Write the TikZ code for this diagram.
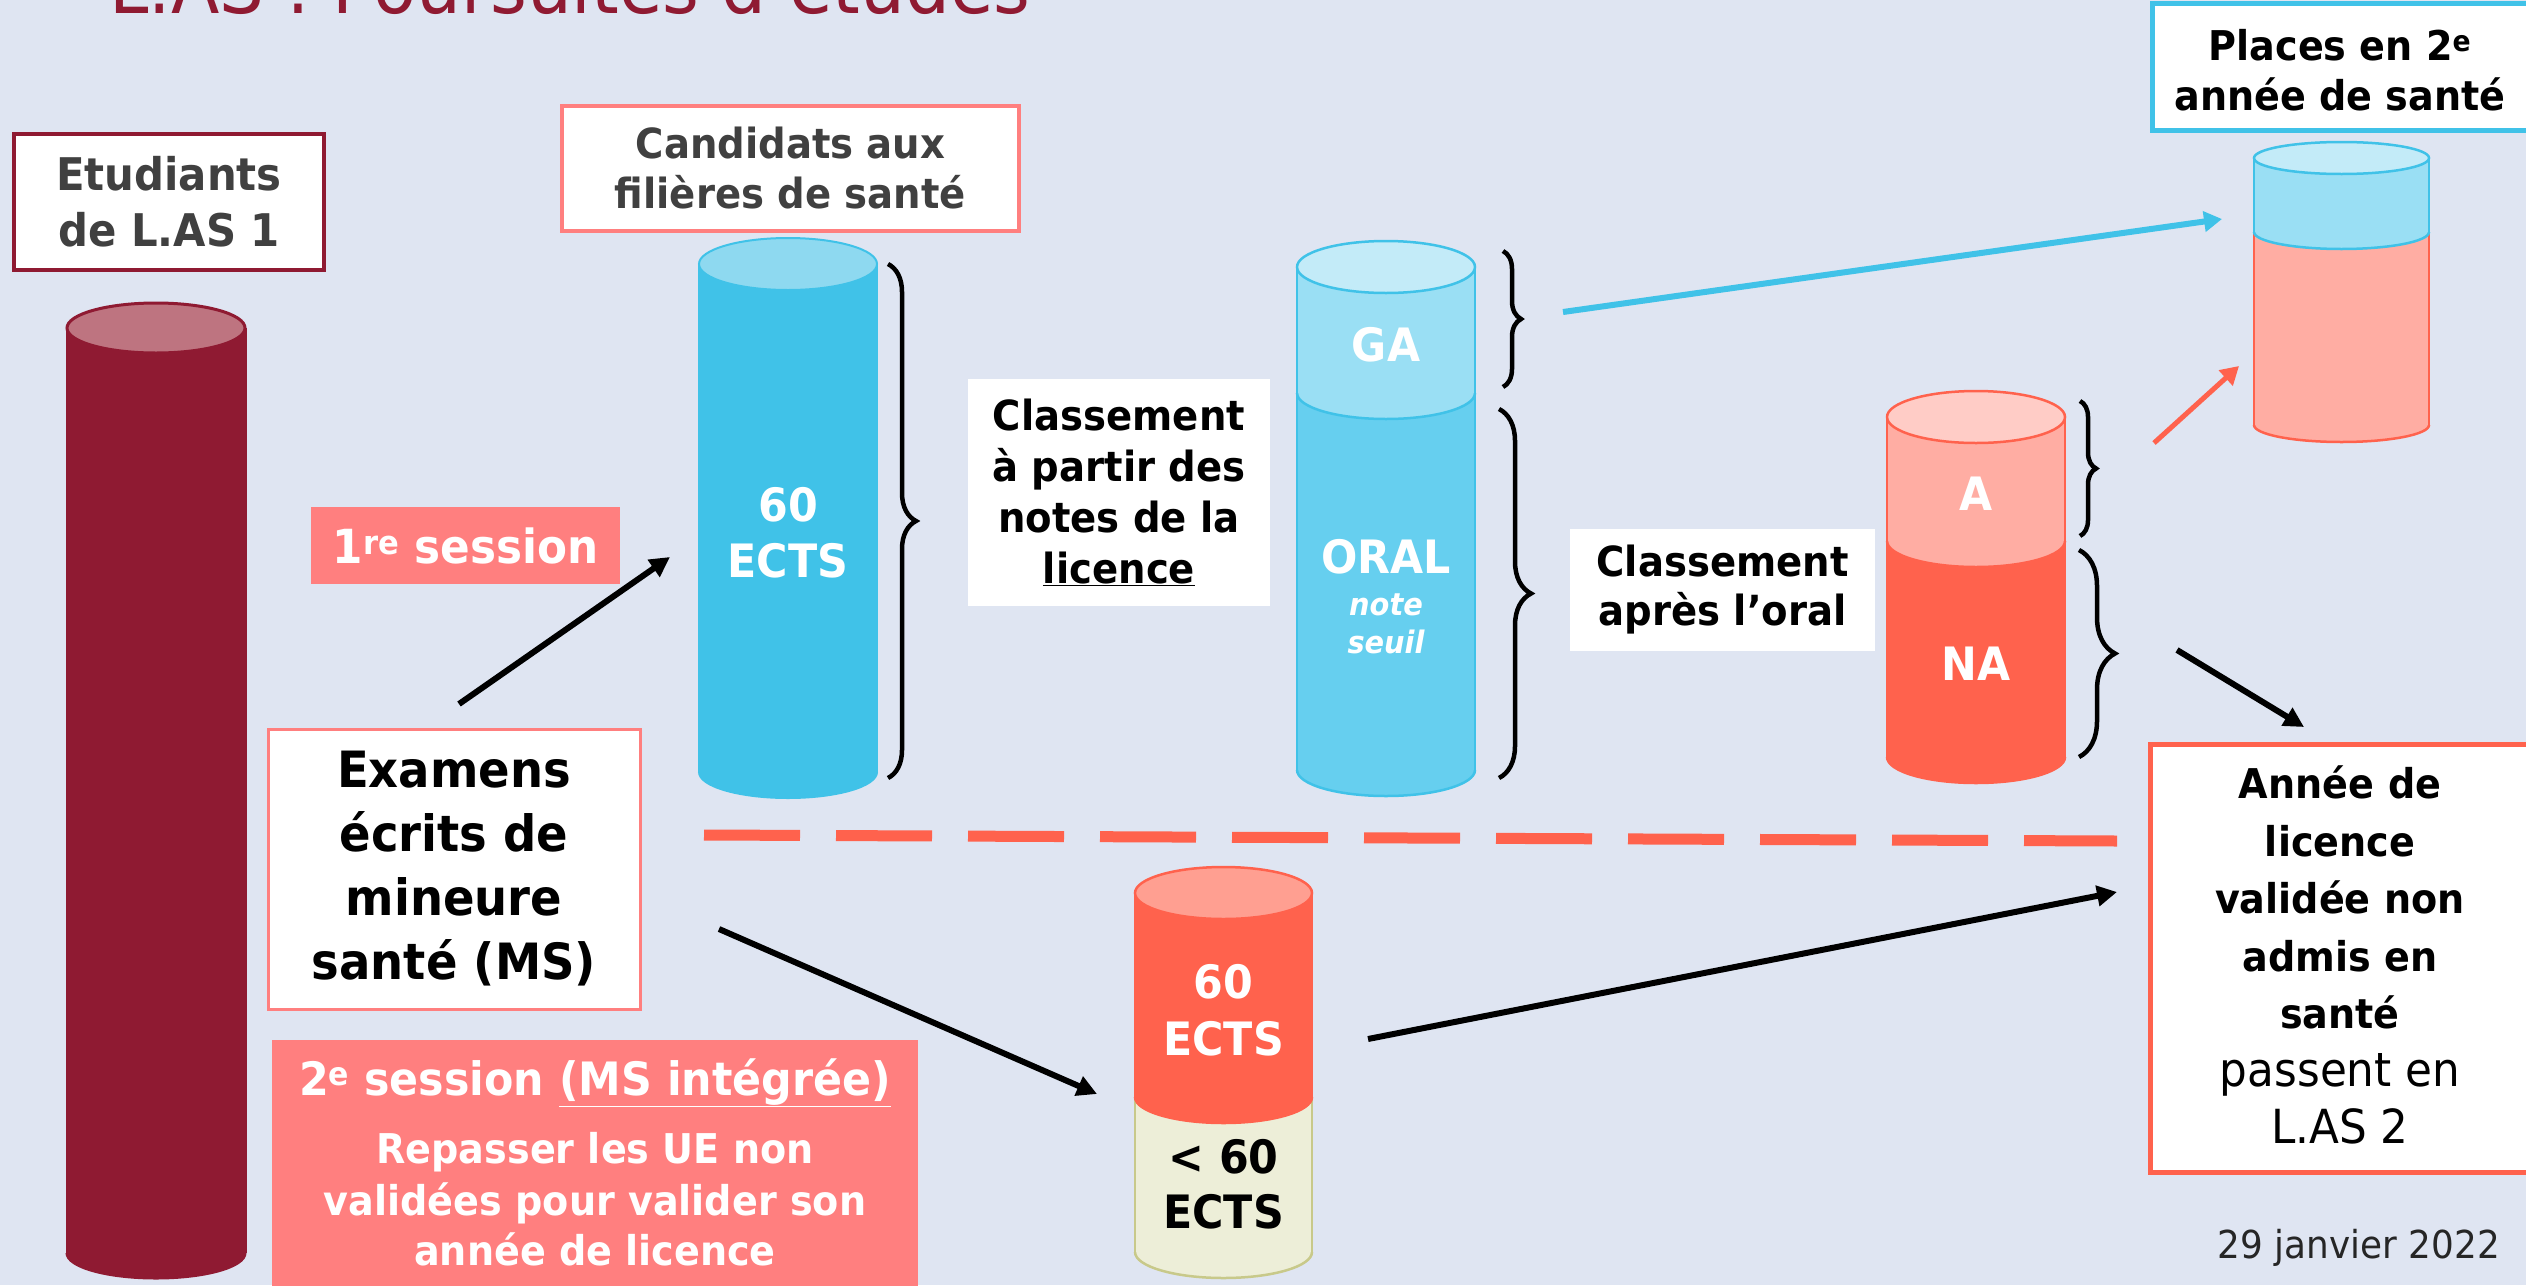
\documentclass[tikz,border=0pt]{standalone}
\usepackage{fontspec}
\setmainfont{DejaVu Sans}[FakeStretch=0.93]
\usetikzlibrary{arrows.meta,decorations.pathreplacing}
\definecolor{bg}{RGB}{223,229,242}
\definecolor{darkred}{RGB}{143,26,50}
\definecolor{darkredtop}{RGB}{190,116,128}
\definecolor{pinkbox}{RGB}{255,127,127}
\definecolor{cyanA}{RGB}{64,194,232}
\definecolor{cyantop}{RGB}{142,217,240}
\definecolor{galight}{RGB}{154,223,244}
\definecolor{gatop}{RGB}{195,235,248}
\definecolor{oralc}{RGB}{102,207,239}
\definecolor{redc}{RGB}{255,98,77}
\definecolor{redlight}{RGB}{255,173,163}
\definecolor{redtop}{RGB}{255,204,198}
\definecolor{redtopb}{RGB}{255,159,145}
\definecolor{beige}{RGB}{237,238,216}
\definecolor{beigeline}{RGB}{200,201,138}
\definecolor{greytext}{RGB}{64,64,64}
% cylinder section: cx, rx, ytop, ybot, ry, fill, border options
\newcommand{\cylsec}[7]{%
  \fill[#6] ({#1-#2},#3) rectangle ({#1+#2},#4);
  \fill[#6] (#1,#4) ellipse [x radius=#2, y radius=#5];
  \draw[#7] ({#1-#2},#3) -- ({#1-#2},#4);
  \draw[#7] ({#1+#2},#3) -- ({#1+#2},#4);
  \begin{scope}
    \clip ({#1-#2-10},#4) rectangle ({#1+#2+10},{#4+#5+10});
    \draw[#7] (#1,#4) ellipse [x radius=#2, y radius=#5];
  \end{scope}}
% cylinder top: cx, rx, y, ry, fill, border options
\newcommand{\cyltop}[6]{%
  \filldraw[fill=#5, #6] (#1,#3) ellipse [x radius=#2, y radius=#4];}
\begin{document}
\begin{tikzpicture}[x=1pt,y=-1pt,
  box/.style={rectangle, inner sep=0pt, align=center},
  brc/.style={decorate, decoration={brace, amplitude=#1}, line width=4.5pt, draw=black},
  blkarrow/.style={draw=black, line width=6pt, -{Triangle[length=20pt,width=20pt]}},
  bluearrow/.style={draw=cyanA, line width=6pt, -{Triangle[length=18pt,width=20pt]}},
  redarrow/.style={draw=redc, line width=5pt, -{Triangle[length=18pt,width=20pt]}},
  dashline/.style={draw=redc, line width=11pt, dash pattern=on 96pt off 36pt},
  cyltext/.style={anchor=base, text=white, font=\bfseries\fontsize{46}{54}\selectfont}]
\useasboundingbox (0,0) rectangle (2526,1285);
\fill[bg] (0,0) rectangle (2526,1285);

% title (cut at top)
\node[anchor=base west, text=darkred, inner sep=0pt, font=\fontsize{76}{84}\selectfont] (title) at (109,13) {L.AS : Poursuites d’études};

% ---- Etudiants de L.AS 1
\node[box, draw=darkred, line width=4pt, fill=white, minimum width=310pt, minimum height=136pt,
  text=greytext, font=\bfseries\fontsize{45}{56}\selectfont] (etud) at (169,202) {Etudiants\\de L.AS 1};

% dark red cylinder
\cylsec{156}{89}{328}{1253}{25}{darkred}{draw=darkred, line width=3pt}
\cyltop{156}{89}{328}{25}{darkredtop}{draw=darkred, line width=3pt}

% ---- 1re session
\node[box, fill=pinkbox, minimum width=309pt, minimum height=77pt, text=white,
  font=\bfseries\fontsize{47}{56}\selectfont] (sess1) at (465.5,545.5) {1\textsuperscript{re} session};

% ---- Examens
\node[box, draw=pinkbox, line width=3pt, fill=white, minimum width=372pt, minimum height=280pt,
  font=\bfseries\fontsize{50}{64}\selectfont] (exam) at (454,869) {Examens\\écrits de\\mineure\\santé (MS)};

% ---- 2e session
\node[box, fill=pinkbox, minimum width=646pt, minimum height=260pt] (sess2) at (595,1170) {};
\node[anchor=base, text=white, inner sep=0pt, font=\bfseries\fontsize{46}{52}\selectfont] (sess2a) at (595,1095) {2\textsuperscript{e} session \underline{(MS intégrée)}};
\node[anchor=base, text=white, inner sep=0pt, font=\bfseries\fontsize{41}{48}\selectfont] (sess2b) at (595,1163) {Repasser les UE non};
\node[anchor=base, text=white, inner sep=0pt, font=\bfseries\fontsize{41}{48}\selectfont] (sess2c) at (595,1215) {validées pour valider son};
\node[anchor=base, text=white, inner sep=0pt, font=\bfseries\fontsize{41}{48}\selectfont] (sess2d) at (595,1265) {année de licence};

% ---- Candidats
\node[box, draw=pinkbox, line width=4pt, fill=white, minimum width=457pt, minimum height=125pt,
  text=greytext, font=\bfseries\fontsize{41.5}{50}\selectfont] (cand) at (790.5,168.5) {Candidats aux\\filières de santé};

% blue cylinder 60 ECTS
\cylsec{788}{89}{264}{772}{26}{cyanA}{draw=cyanA, line width=2pt}
\cyltop{788}{89}{264}{26}{cyantop}{draw=cyanA, line width=2pt}
\node[cyltext] (ects1a) at (788,521) {60};
\node[cyltext] (ects1b) at (788,577) {ECTS};
\draw[brc=28pt] (888,264) -- (888,778);

% ---- Classement a partir des notes
\node[box, fill=white, minimum width=302pt, minimum height=227pt,
  font=\bfseries\fontsize{41.5}{51}\selectfont] (class1) at (1119,492.5) {Classement\\à partir des\\notes de la\\\underline{licence}};

% GA / ORAL cylinder
\cylsec{1386}{89}{393}{770}{26}{oralc}{draw=cyanA, line width=2.5pt}
\cylsec{1386}{89}{267}{393}{26}{galight}{draw=cyanA, line width=2.5pt}
\cyltop{1386}{89}{267}{26}{gatop}{draw=cyanA, line width=2.5pt}
\node[cyltext] (ga) at (1386,361) {GA};
\node[cyltext] (oral) at (1386,573) {ORAL};
\node[cyltext, font=\bfseries\itshape\fontsize{31}{40}\selectfont] (note) at (1386,615) {note};
\node[cyltext, font=\bfseries\itshape\fontsize{31}{40}\selectfont] (seuil) at (1386,653) {seuil};
\draw[brc=18pt] (1503,251) -- (1503,387);
\draw[brc=32pt] (1499,409) -- (1499,778);

% ---- Classement apres l'oral
\node[box, fill=white, minimum width=305pt, minimum height=122pt,
  font=\bfseries\fontsize{41.5}{49}\selectfont] (class2) at (1722.5,590) {Classement\\après l’oral};

% A / NA cylinder
\cylsec{1976}{89}{541}{757}{26}{redc}{draw=redc, line width=2.5pt}
\cylsec{1976}{89}{417}{541}{26}{redlight}{draw=redc, line width=2.5pt}
\cyltop{1976}{89}{417}{26}{redtop}{draw=redc, line width=2.5pt}
\node[cyltext] (atext) at (1976,510) {A};
\node[cyltext] (natext) at (1976,680) {NA};
\draw[brc=16pt] (2080,401) -- (2080,536);
\draw[brc=36pt] (2079,550) -- (2079,757);

% ---- Places en 2e annee
\node[box, draw=cyanA, line width=5pt, fill=white, minimum width=388pt, minimum height=127pt] (places) at (2346,66.5) {};
\node[box, font=\bfseries\fontsize{41}{50}\selectfont] (placest) at (2340,70) {Places en 2\textsuperscript{e}\\année de santé};

% places cylinder
\cylsec{2341.5}{87.5}{232}{425}{17}{redlight}{draw=redc, line width=2.5pt}
\cylsec{2341.5}{87.5}{158}{232}{17}{galight}{draw=cyanA, line width=2.5pt}
\cyltop{2341.5}{87.5}{158}{16}{gatop}{draw=cyanA, line width=2.5pt}

% ---- dashed separator
\coordinate (dl1) at (704,835);
\coordinate (dl2) at (2117,841);
\draw[dashline] (dl1) -- (dl2);

% lower cylinder
\cylsec{1223.5}{88.5}{1097}{1252}{26}{beige}{draw=beigeline, line width=2.5pt}
\cylsec{1223.5}{88.5}{893}{1097}{26}{redc}{draw=redc, line width=2.5pt}
\cyltop{1223.5}{88.5}{893}{26}{redtopb}{draw=redc, line width=2.5pt}
\node[cyltext] (ects2a) at (1223.5,998) {60};
\node[cyltext] (ects2b) at (1223.5,1055) {ECTS};
\node[cyltext, text=black] (ects3a) at (1223.5,1173) {< 60};
\node[cyltext, text=black] (ects3b) at (1223.5,1228) {ECTS};

% ---- Annee de licence validee
\node[box, draw=redc, line width=5pt, fill=white, minimum width=390pt, minimum height=428pt] (annee) at (2345,958) {};
\node[box, text width=380pt, font=\bfseries\fontsize{41}{57.5}\selectfont] (anneet) at (2340,955)
  {Année de\\licence\\validée non\\admis en\\santé\\\mdseries\fontsize{47}{57.5}\selectfont passent en\\L.AS 2};

% date
\node[anchor=base east, inner sep=0pt, text=black!85, font=\fontsize{38.5}{44}\selectfont] (date) at (2500,1258) {29 janvier 2022};

% ---- arrows
\coordinate (a1s) at (459,704);
\coordinate (a1e) at (670,557);
\draw[blkarrow] (a1s) -- (a1e);
\coordinate (a2s) at (719,929);
\coordinate (a2e) at (1097,1094);
\draw[blkarrow] (a2s) -- (a2e);
\coordinate (a3s) at (1368,1039);
\coordinate (a3e) at (2117,892);
\draw[blkarrow] (a3s) -- (a3e);
\coordinate (a4s) at (2177,650);
\coordinate (a4e) at (2304,727);
\draw[blkarrow] (a4s) -- (a4e);
\coordinate (b1s) at (1563,312);
\coordinate (b1e) at (2222,219);
\draw[bluearrow] (b1s) -- (b1e);
\coordinate (r1s) at (2154,443);
\coordinate (r1e) at (2239,366);
\draw[redarrow] (r1s) -- (r1e);
\end{tikzpicture}
\end{document}
